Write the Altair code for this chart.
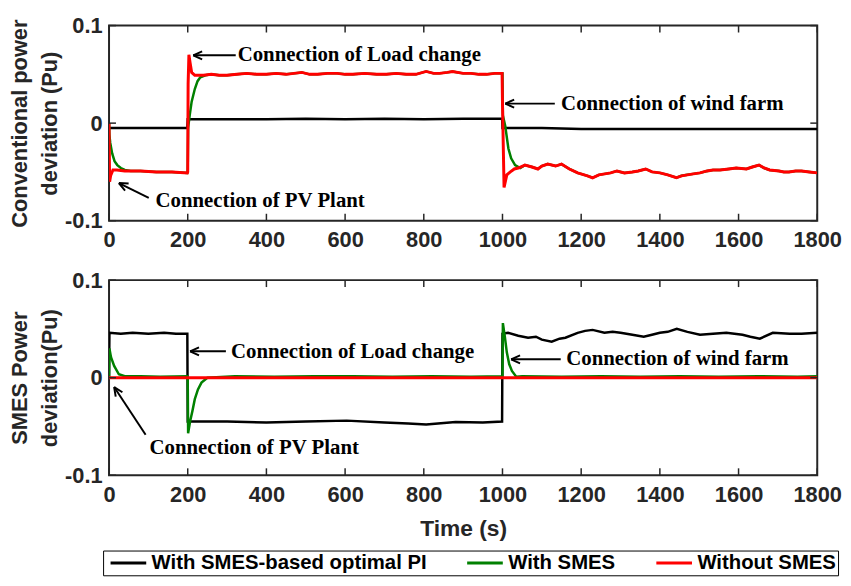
import math
import altair as alt
import pandas as pd

SERIES = ["With SMES-based optimal PI", "With SMES", "Without SMES"]
COLORS = ["#000000", "#008000", "#ff0000"]

X_TICKS = [0, 200, 400, 600, 800, 1000, 1200, 1400, 1600, 1800]
Y_TICKS = [-0.1, 0.0, 0.1]

# ---------------- Top panel: conventional power deviation ----------------
conv_pi_t = [0, 60, 120, 199, 200, 300, 400, 500, 600, 700, 800, 900, 999,
             1000, 1100, 1200, 1300, 1400, 1500, 1600, 1700, 1800]
conv_pi_v = [-0.005, -0.005, -0.005, -0.005, 0.004, 0.004, 0.004, 0.0045, 0.004, 0.0045, 0.004, 0.0045, 0.0045,
             -0.005, -0.005, -0.006, -0.006, -0.006, -0.006, -0.006, -0.006, -0.006]

conv_none_t = [0, 1.5, 4, 10, 20, 40, 80, 120, 160, 199,
               200, 201, 203, 206, 210, 218, 240, 260, 280, 300, 325, 350, 375, 400, 425, 450, 470, 490,
               510, 530, 555, 580, 600, 620, 650, 680, 705, 730, 755, 780, 806, 825, 840, 860, 873,
               900, 920, 940, 960, 980, 999,
               1000, 1004, 1011, 1020, 1030, 1040, 1057, 1075, 1090, 1100, 1115, 1135, 1150, 1170, 1191, 1216,
               1229, 1245, 1260, 1275, 1291, 1310, 1330, 1345, 1364, 1380, 1400, 1420, 1442, 1455, 1470, 1485,
               1502, 1520, 1535, 1553, 1575, 1594, 1620, 1635, 1652, 1665, 1679, 1703, 1715, 1728, 1745,
               1760, 1780, 1800]
conv_none_v = [0.0, -0.060, -0.054, -0.048, -0.048, -0.049, -0.049, -0.050, -0.050, -0.051,
               -0.050, 0.040, 0.070, 0.062, 0.052, 0.049, 0.049, 0.050, 0.049, 0.049, 0.050, 0.051, 0.050, 0.050,
               0.051, 0.050, 0.051, 0.052,
               0.050, 0.050, 0.051, 0.051, 0.050, 0.050, 0.051, 0.050, 0.050, 0.051, 0.050, 0.050, 0.053, 0.051,
               0.051, 0.052, 0.053,
               0.051, 0.051, 0.050, 0.050, 0.051, 0.051,
               0.020, -0.066, -0.053, -0.050, -0.047, -0.046, -0.043, -0.045, -0.047, -0.044, -0.042, -0.044,
               -0.042, -0.047, -0.051, -0.054,
               -0.056, -0.053, -0.052, -0.051, -0.049, -0.051, -0.050, -0.049, -0.047, -0.050, -0.051, -0.053,
               -0.056, -0.054, -0.053, -0.052,
               -0.051, -0.049, -0.048, -0.048, -0.047, -0.046, -0.047, -0.045, -0.043, -0.046, -0.048, -0.049,
               -0.050, -0.050, -0.049,
               -0.049, -0.050, -0.051]

# With SMES: transients read separately, otherwise it lies on the red trace
conv_smes_trans_t = [0, 1, 3, 8, 14, 21, 30, 40, 55,
                     200, 201, 205, 210, 218, 225, 232, 245,
                     1000, 1001, 1007, 1015, 1022, 1032, 1045]
conv_smes_trans_v = [0.0, -0.012, -0.020, -0.031, -0.039, -0.043, -0.046, -0.048, -0.049,
                     -0.050, -0.005, 0.008, 0.022, 0.035, 0.043, 0.047, 0.049,
                     0.051, 0.008, -0.003, -0.026, -0.036, -0.043, -0.046]

# ---------------- Bottom panel: SMES power deviation ----------------
smes_pi_t = [0, 1, 30, 60, 100, 140, 170, 199, 200, 230, 300, 400, 500, 604, 700, 760, 806, 881, 950, 999,
             1000, 1014, 1040, 1065, 1085, 1100, 1125, 1145, 1160, 1191, 1210, 1229, 1259, 1280, 1300, 1330,
             1359, 1380, 1400, 1420, 1443, 1470, 1502, 1535, 1569, 1610, 1630, 1654, 1687, 1730, 1760, 1800]
smes_pi_v = [0.0, 0.046, 0.045, 0.046, 0.045, 0.046, 0.045, 0.045, -0.045, -0.045, -0.045, -0.046, -0.045,
             -0.044, -0.046, -0.047, -0.048, -0.0455, -0.046, -0.045,
             0.045, 0.046, 0.043, 0.041, 0.042, 0.039, 0.037, 0.040, 0.041, 0.046, 0.048, 0.049, 0.046, 0.047,
             0.046, 0.044, 0.042, 0.044, 0.046, 0.047, 0.050, 0.047, 0.044, 0.045, 0.046, 0.044, 0.042, 0.040,
             0.046, 0.045, 0.045, 0.046]

smes_smes_t = [0, 1, 5, 13, 25, 40, 80, 130, 199,
               200, 201, 206, 212, 218, 226, 235, 250, 320, 420, 520, 620, 720, 820, 920, 999,
               1000, 1001, 1006, 1011, 1017, 1024, 1035, 1050, 1150, 1250, 1350, 1450, 1550, 1650, 1750, 1800]
smes_smes_v = [0.0, 0.030, 0.021, 0.012, 0.0035, 0.0015, 0.0015, 0.001, 0.0015,
               0.0, -0.057, -0.045, -0.034, -0.022, -0.012, -0.005, 0.0, 0.0015, 0.001, 0.0015, 0.0015, 0.001,
               0.0015, 0.001, 0.0015,
               0.0, 0.056, 0.042, 0.026, 0.014, 0.007, 0.001, 0.0015, 0.001, 0.0015, 0.001, 0.0015, 0.001,
               0.0015, 0.001, 0.0015]

smes_none_t = [0, 1800]
smes_none_v = [0.0, 0.0]

# ---------------- Annotations (data coordinates) ----------------
top_notes = ["Connection of Load change", "Connection of wind farm", "Connection of PV Plant"]
top_text_t = [327, 1149, 118]
top_text_v = [0.0695, 0.020, -0.0797]
top_tail_t = [322, 1133, 101]
top_tail_v = [0.0695, 0.020, -0.0767]
top_head_t = [214, 1007, 25]
top_head_v = [0.0695, 0.020, -0.0614]

bot_notes = ["Connection of Load change", "Connection of wind farm", "Connection of PV Plant"]
bot_text_t = [310, 1162, 103]
bot_text_v = [0.0259, 0.0188, -0.0726]
bot_tail_t = [297, 1148, 93]
bot_tail_v = [0.027, 0.0188, -0.0584]
bot_head_t = [206, 1022, 13]
bot_head_v = [0.027, 0.0188, -0.0096]

# ---------------- Layout / style ----------------
W, H = 715, 197
TICK = 7
AX = "#262626"
SANS = "Liberation Sans"
SERIF = "Liberation Serif"


def series_df(ts, vs, name):
    return pd.DataFrame({"t": ts, "v": vs, "series": name})


def merged_smes_top():
    red = list(zip(conv_none_t, conv_none_v))
    steady = [(t, v) for t, v in red if (55 < t < 200) or (245 < t < 1000) or (t > 1045)]
    pts = sorted(list(zip(conv_smes_trans_t, conv_smes_trans_v)) + steady)
    return [p[0] for p in pts], [p[1] for p in pts]


def notes_df(labels, tt, tv, t0, v0, t1, v1):
    rows = []
    for i in range(len(labels)):
        dx = (t1[i] - t0[i]) * W / 1800.0
        dy = -(v1[i] - v0[i]) * H / 0.2
        ang = (math.degrees(math.atan2(dy, dx)) - 180.0) % 360.0
        rows.append({"label": labels[i], "tt": tt[i], "tv": tv[i], "t0": t0[i], "v0": v0[i],
                     "t1": t1[i], "v1": v1[i], "angle": ang})
    return pd.DataFrame(rows)


def panel(frames, notes, ytitle, xtitle):
    xs = alt.Scale(domain=[0, 1800], nice=False, zero=False)
    ys = alt.Scale(domain=[-0.1, 0.1], nice=False, zero=False)
    xaxis_kw = dict(values=X_TICKS, format="d", domain=False, ticks=False, tickSize=0, grid=False,
                    labelFont=SANS, labelFontWeight="bold", labelFontSize=22, labelColor=AX,
                    labelPadding=9, labelFlush=False,
                    titleFont=SANS, titleFontWeight="bold", titleFontSize=23, titleColor=AX, titlePadding=13)
    if xtitle:
        xaxis = alt.Axis(title=xtitle, **xaxis_kw)
    else:
        xaxis = alt.Axis(title=None, **xaxis_kw)
    yaxis = alt.Axis(values=Y_TICKS, title=ytitle, domain=False, ticks=False, tickSize=0, grid=False,
                     labelExpr="datum.value > 0.05 ? '0.1' : (datum.value < -0.05 ? '-0.1' : '0')",
                     labelFont=SANS, labelFontWeight="bold", labelFontSize=22, labelColor=AX,
                     labelPadding=7, labelFlush=False,
                     titleFont=SANS, titleFontWeight="bold", titleFontSize=22, titleColor=AX,
                     titleLineHeight=30, titlePadding=3)
    color = alt.Color("series:N", scale=alt.Scale(domain=SERIES, range=COLORS),
                      legend=alt.Legend(title=None, orient="none", legendX=-6, legendY=530,
                                        direction="horizontal", symbolType="M-0.55,0L3.45,0",
                                        symbolSize=324, symbolStrokeWidth=3, labelFont=SANS,
                                        labelFontWeight="bold", labelFontSize=20.5, labelColor="black",
                                        labelLimit=400, strokeColor="black", padding=2, columnPadding=34,
                                        labelOffset=26))
    layers = []
    for df, sw in frames:
        layers.append(alt.Chart(df).mark_line(strokeWidth=sw, clip=True).encode(
            x=alt.X("t:Q", scale=xs, axis=xaxis),
            y=alt.Y("v:Q", scale=ys, axis=yaxis),
            color=color,
        ))
    xt = pd.DataFrame({"t": X_TICKS})
    yt = pd.DataFrame({"v": Y_TICKS})
    layers.append(alt.Chart(xt).mark_rule(color=AX, strokeWidth=1.5).encode(
        x=alt.X("t:Q", scale=xs, axis=xaxis), y=alt.value(0), y2=alt.value(TICK)))
    layers.append(alt.Chart(xt).mark_rule(color=AX, strokeWidth=1.5).encode(
        x=alt.X("t:Q", scale=xs, axis=xaxis), y=alt.value(H - TICK), y2=alt.value(H)))
    layers.append(alt.Chart(yt).mark_rule(color=AX, strokeWidth=1.5).encode(
        y=alt.Y("v:Q", scale=ys, axis=yaxis), x=alt.value(0), x2=alt.value(TICK)))
    layers.append(alt.Chart(yt).mark_rule(color=AX, strokeWidth=1.5).encode(
        y=alt.Y("v:Q", scale=ys, axis=yaxis), x=alt.value(W - TICK), x2=alt.value(W)))
    # annotations
    layers.append(alt.Chart(notes).mark_rule(color="black", strokeWidth=2).encode(
        x=alt.X("t0:Q", scale=xs, axis=xaxis), x2="t1:Q",
        y=alt.Y("v0:Q", scale=ys, axis=yaxis), y2="v1:Q"))
    layers.append(alt.Chart(notes).mark_point(shape="M0,0L1,-0.45M0,0L1,0.45", size=324, filled=False,
                                              color="black", strokeWidth=2, opacity=1).encode(
        x=alt.X("t1:Q", scale=xs, axis=xaxis), y=alt.Y("v1:Q", scale=ys, axis=yaxis),
        angle=alt.Angle("angle:Q", scale=None)))
    layers.append(alt.Chart(notes).mark_text(align="left", baseline="middle", font=SERIF, fontWeight="bold",
                                             fontSize=21, color="black").encode(
        x=alt.X("tt:Q", scale=xs, axis=xaxis), y=alt.Y("tv:Q", scale=ys, axis=yaxis), text="label:N"))
    return alt.layer(*layers).properties(width=W, height=H)


gt, gv = merged_smes_top()
top = panel(
    [(series_df(conv_pi_t, conv_pi_v, SERIES[0]), 2.5),
     (series_df(gt, gv, SERIES[1]), 2.5),
     (series_df(conv_none_t, conv_none_v, SERIES[2]), 3)],
    notes_df(top_notes, top_text_t, top_text_v, top_tail_t, top_tail_v, top_head_t, top_head_v),
    ["Conventional power", "deviation (Pu)"], None)

bottom = panel(
    [(series_df(smes_pi_t, smes_pi_v, SERIES[0]), 2.5),
     (series_df(smes_smes_t, smes_smes_v, SERIES[1]), 2.5),
     (series_df(smes_none_t, smes_none_v, SERIES[2]), 3)],
    notes_df(bot_notes, bot_text_t, bot_text_v, bot_tail_t, bot_tail_v, bot_head_t, bot_head_v),
    ["SMES Power", "deviation(Pu)"], "Time (s)")

chart = alt.vconcat(top, bottom, spacing=17).properties(
    padding={"left": 0, "top": 3, "right": 0, "bottom": 0}
).configure_view(stroke=AX, strokeWidth=2)

chart.save("out.html", embed_options={"renderer": "svg", "actions": False})
